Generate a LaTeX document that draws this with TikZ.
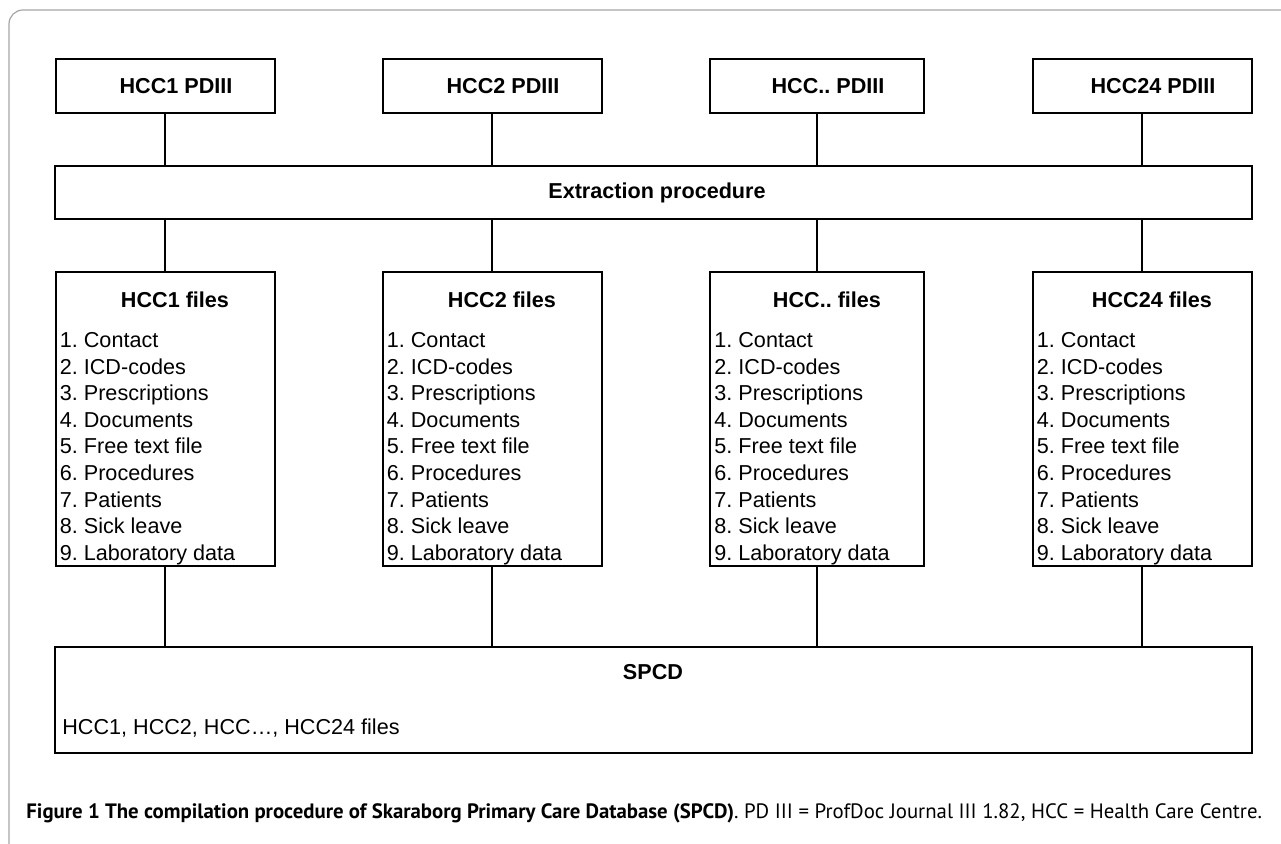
\documentclass[tikz,border=0pt]{standalone}
\usepackage{fontspec}
\setmainfont{Liberation Sans}
\newfontfamily\capfont{PT Sans}
\usetikzlibrary{positioning}
\frenchspacing

\tikzset{
    box/.style={draw, line width=1pt, inner sep=0pt},
    wire/.style={line width=1pt},
    ttl/.style={font=\fontsize{10.8}{13.3}\selectfont\bfseries, inner sep=0pt},
    lst/.style={font=\fontsize{10.8}{13.3}\selectfont, inner sep=0pt, align=left},
}

\begin{document}
\begin{tikzpicture}[x=0.5pt, y=-0.5pt]
    \useasboundingbox (0,0) rectangle (1281,844);
    % frame:
    \draw[gray!70, line width=0.6pt, rounded corners=7pt] (1290,10) -- (9,10) -- (9,850);

    % sources, extraction and files, one column each
    \foreach \i/\cx/\w/\name in {1/165/219/HCC1, 2/492/219/HCC2, 3/817/214/HCC.., 4/1142/219/HCC24} {
        \node[box, minimum width=\w*0.5pt, minimum height=27pt] (top\i) at (\cx,86) {};
        \node[ttl] (toplbl\i) at (\cx+11,86) {\name\ PDIII};
        \node[box, minimum width=\w*0.5pt, minimum height=147pt] (files\i) at (\cx,419) {};
        \node[ttl] (filelbl\i) at (\cx+10,300) {\name\ files};
        \node[lst, anchor=north west] (list\i) at ([xshift=2.5pt, yshift=-30.5pt]files\i.north west)
            {1. Contact\\2. ICD-codes\\3. Prescriptions\\4. Documents\\5. Free text file\\6. Procedures\\7. Patients\\8. Sick leave\\9. Laboratory data};
    }

    \node[box, minimum width=598.5pt, minimum height=26.5pt] (extract) at (653.5,192.5) {};
    \node[ttl] (extractlbl) at (657,193) {Extraction procedure};

    \node[box, minimum width=598.5pt, minimum height=53pt] (spcd) at (653.5,700) {};
    \node[ttl] (spcdlbl) at (653,672) {SPCD};
    \node[lst, anchor=west] (spcdlist) at (62,728) {HCC1, HCC2, HCC…, HCC24 files};

    % connectors
    \foreach \i in {1,...,4} {
        \draw[wire] (top\i.south) -- (top\i.south |- extract.north);
        \draw[wire] (files\i.north |- extract.south) -- (files\i.north);
        \draw[wire] (files\i.south) -- (files\i.south |- spcd.north);
    }

    % caption
    \node[anchor=west, inner sep=0pt, font=\capfont\fontsize{10.4}{12}\selectfont] (caption) at (26,813)
        {\textbf{Figure 1 The compilation procedure of Skaraborg Primary Care Database (SPCD)}. PD III = ProfDoc Journal III 1.82, HCC = Health Care Centre.};
\end{tikzpicture}
\end{document}
